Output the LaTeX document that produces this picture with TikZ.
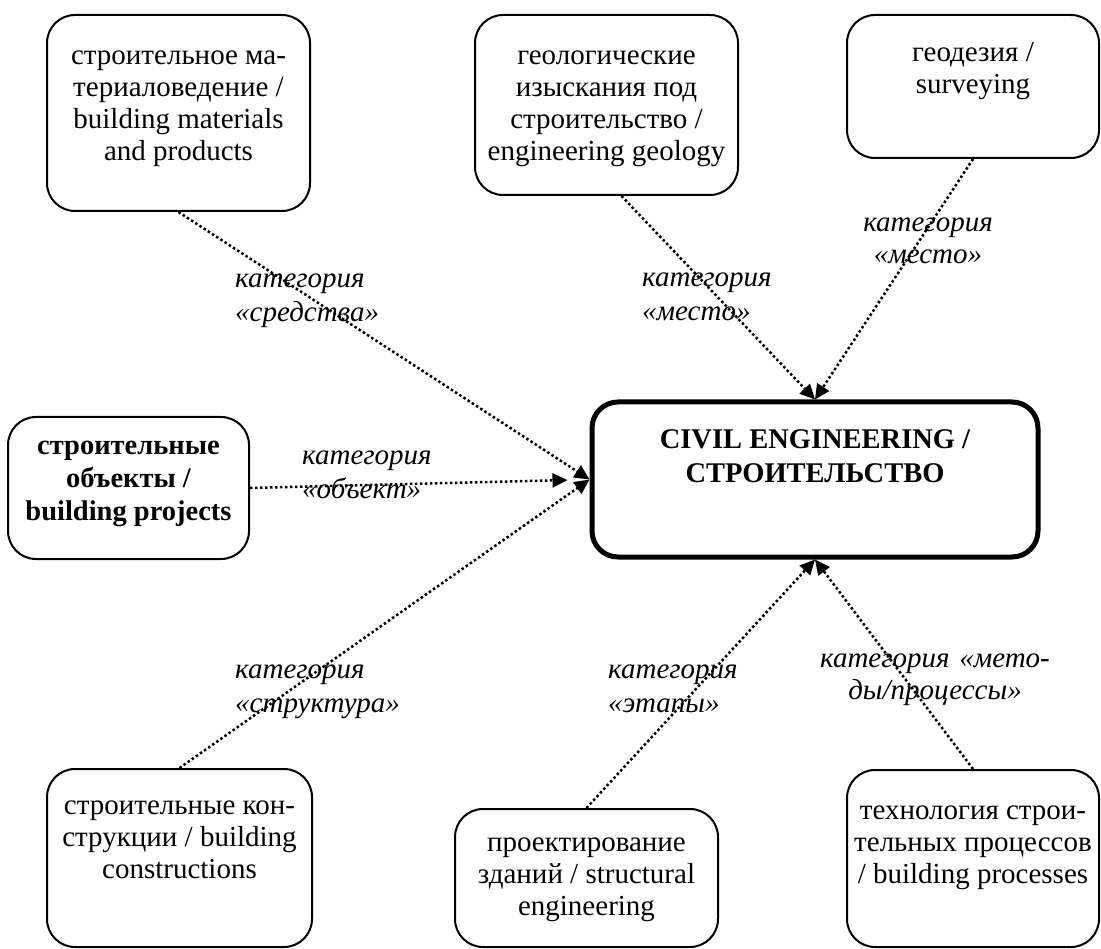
\documentclass[tikz,border=0pt]{standalone}
\usepackage{fontspec}
\setmainfont{Liberation Serif}
\usetikzlibrary{arrows.meta,calc}
\newcommand\boxtxt[4]{\begin{minipage}[c][#2][t]{#1}\centering\vspace*{#3}\strut #4\end{minipage}}
\tikzset{
  box/.style={draw, line width=2pt, rounded corners=28pt, inner sep=0pt,
    font=\fontsize{29}{32}\selectfont},
  boldbox/.style={draw, line width=2pt, rounded corners=28pt, inner sep=0pt,
    font=\fontsize{28.5}{33}\selectfont\bfseries},
  mainbox/.style={draw, line width=5pt, rounded corners=26pt, inner sep=0pt,
    font=\fontsize{28.5}{34}\selectfont\bfseries},
  link/.style={line width=2.5pt, dash pattern=on 2.5pt off 2.5pt,
    -{Triangle[length=15pt,width=14pt]}},
  labl/.style={font=\fontsize{29}{34}\selectfont\itshape, inner sep=0pt,
    anchor=base west, text width=260pt, align=left},
  labc/.style={font=\fontsize{29}{32}\selectfont\itshape, inner sep=0pt,
    anchor=base, text width=300pt, align=center}
}
\begin{document}
\begin{tikzpicture}[x=1pt,y=-1pt]
\useasboundingbox (0,0) rectangle (1101,949);
% boxes
\node[box] (b1) at (178.5,113) {\boxtxt{263pt}{196pt}{27.6pt}{строительное ма-\\териаловедение /\\building materials\\and products}};
\node[box] (b2) at (606.5,105) {\boxtxt{263pt}{180pt}{27.6pt}{геологические\\изыскания под\\строительство /\\engineering geology}};
\node[box] (b3) at (973,86.5) {\boxtxt{252pt}{143pt}{24.6pt}{геодезия /\\surveying}};
\node[boldbox] (b4) at (128.5,488) {\boxtxt{241pt}{142pt}{14.9pt}{строительные\\объекты /\\building projects}};
\node[mainbox] (c) at (815,479.5) {\boxtxt{446pt}{155pt}{22.2pt}{CIVIL ENGINEERING /\\СТРОИТЕЛЬСТВО}};
\node[box] (b6) at (179.5,858) {\boxtxt{265pt}{178pt}{22.6pt}{строительные кон-\\струкции / building\\constructions}};
\node[box] (b7) at (586.5,878) {\boxtxt{263pt}{138pt}{19.6pt}{проектирование\\зданий / structural\\engineering}};
\node[box] (b8) at (973,858.5) {\boxtxt{252pt}{177pt}{27pt}{технология строи-\\тельных процессов\\/ building processes}};
% connectors
\draw[link] (b1.south) -- (c.west);
\draw[link] ($(b2.south)+(15,0)$) -- (c.north);
\draw[link] (b3.south) -- (c.north);
\draw[link, shorten >=22pt] (b4.east) -- (c.west);
\draw[link] (b6.north) -- (c.west);
\draw[link] (b7.north) -- (c.south);
\draw[link] (b8.north) -- (c.south);
% labels
\node[labl] (l1) at (235,288) {категория\\«средства»};
\node[labl] (l2) at (302,465) {категория\\«объект»};
\node[labl] (l3) at (642,287) {категория\\«место»};
\node[labc] (l4) at (928,232) {категория\\«место»};
\node[labl] (l5) at (235,678) {категория\\«структура»};
\node[labl] (l6) at (608,678) {категория\\«этапы»};
\node[labc] (l7) at (935,667) {категория «мето-\\ды/процессы»};
\end{tikzpicture}
\end{document}
